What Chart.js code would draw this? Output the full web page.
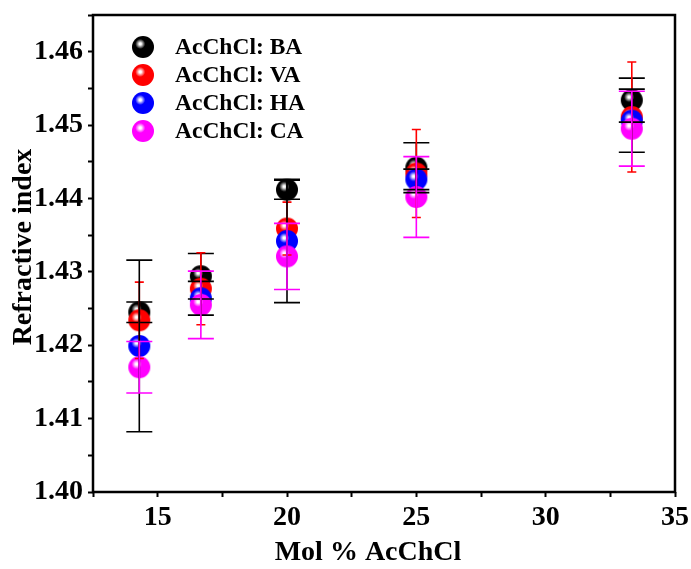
<!DOCTYPE html>
<html>
<head>
<meta charset="utf-8">
<script src="https://cdn.jsdelivr.net/npm/chart.js@4/dist/chart.umd.min.js"></script>
<style>
  body { margin: 0; background: #fff; }
  #wrap { width: 691px; height: 569px; }
</style>
</head>
<body>
<div id="wrap"><canvas id="chart" width="691" height="569"></canvas></div>
<script>
// values
const molPercent = [14.29, 16.67, 20, 25, 33.33];
const seriesNames = ["AcChCl: BA", "AcChCl: VA", "AcChCl: HA", "AcChCl: CA"];

const baIndex = [1.4245, 1.4294, 1.4412, 1.4442, 1.4534];
const vaIndex = [1.4234, 1.4277, 1.4359, 1.4434, 1.4511];
const haIndex = [1.4199, 1.4264, 1.4342, 1.4426, 1.4506];
const caIndex = [1.4170, 1.4255, 1.4321, 1.4402, 1.4495];

const baError = [0.0014, 0.0031, 0.0013, 0.0034, 0.0030];
const vaError = [0.0052, 0.0049, 0.0036, 0.0060, 0.0075];
const haError = [0.0117, 0.0023, 0.0084, 0.0014, 0.0043];
const caError = [0.0035, 0.0046, 0.0045, 0.0055, 0.0051];

const xTickLabels = [15, 20, 25, 30, 35];
const yTickLabels = [1.40, 1.41, 1.42, 1.43, 1.44, 1.45, 1.46];

const seriesValues = [baIndex, vaIndex, haIndex, caIndex];
const seriesErrors = [baError, vaError, haError, caError];
const sphereColors = ["#000000", "#ff0000", "#0000ff", "#ff00ff"];
const barColors = ["#000000", "#ff0000", "#000000", "#ff00ff"];
const capHalf = [13, 4.5, 13, 13];

const FONT = '"Liberation Serif", "Times New Roman", serif';

function makeSphere(color, r) {
  const c = document.createElement("canvas");
  c.width = c.height = r * 2 + 2;
  const g = c.getContext("2d");
  const cx = r + 1, cy = r + 1;
  const hx = cx - r * 0.25, hy = cy - r * 0.28;
  const grad = g.createRadialGradient(hx, hy, 0, hx, hy, r * 1.2);
  grad.addColorStop(0, "#ffffff");
  grad.addColorStop(0.08, "#ffffff");
  grad.addColorStop(0.38, color);
  grad.addColorStop(1, color);
  g.fillStyle = grad;
  g.beginPath();
  g.arc(cx, cy, r, 0, Math.PI * 2);
  g.fill();
  return c;
}

const spheres = sphereColors.map((c) => makeSphere(c, 11));

const errorBars = {
  id: "errorBars",
  afterDatasetsDraw(chart) {
    const ctx = chart.ctx;
    const y = chart.scales.y;
    ctx.save();
    ctx.lineWidth = 1.6;
    seriesValues.forEach((vals, si) => {
      const meta = chart.getDatasetMeta(si);
      ctx.strokeStyle = barColors[si];
      vals.forEach((v, i) => {
        const px = meta.data[i].x;
        const top = y.getPixelForValue(v + seriesErrors[si][i]);
        const bot = y.getPixelForValue(v - seriesErrors[si][i]);
        const w = capHalf[si];
        ctx.beginPath();
        ctx.moveTo(px, top); ctx.lineTo(px, bot);
        ctx.moveTo(px - w, top); ctx.lineTo(px + w, top);
        ctx.moveTo(px - w, bot); ctx.lineTo(px + w, bot);
        ctx.stroke();
      });
    });
    ctx.restore();
  }
};

const frameAndText = {
  id: "frameAndText",
  afterDraw(chart) {
    const ctx = chart.ctx;
    const a = chart.chartArea;
    ctx.save();
    ctx.strokeStyle = "#000";
    ctx.lineWidth = 2.5;
    ctx.strokeRect(a.left, a.top, a.right - a.left, a.bottom - a.top);

    // legend
    ctx.font = "bold 23.5px " + FONT;
    ctx.fillStyle = "#000";
    ctx.textBaseline = "middle";
    ctx.textAlign = "left";
    seriesNames.forEach((name, i) => {
      const ly = 47 + i * 28;
      ctx.drawImage(spheres[i], 143 - spheres[i].width / 2, ly - spheres[i].height / 2);
      ctx.fillText(name, 175, ly + 1);
    });

    // axis titles
    ctx.font = "bold 28px " + FONT;
    ctx.textAlign = "center";
    ctx.fillText("Mol % AcChCl", 368, 553);
    ctx.translate(24, 247);
    ctx.rotate(-Math.PI / 2);
    ctx.fillText("Refractive index", 0, 0);
    ctx.restore();
  }
};

const datasets = seriesValues.map((vals, si) => ({
  label: seriesNames[si],
  data: molPercent.map((x, i) => ({ x: x, y: vals[i] })),
  pointStyle: spheres[si],
  pointRadius: 11,
  showLine: false,
  order: 3 - si
}));

new Chart(document.getElementById("chart"), {
  type: "scatter",
  data: { datasets },
  options: {
    responsive: false,
    animation: false,
    devicePixelRatio: 1,
    layout: { padding: { top: 15, right: 16, left: 0, bottom: 0 } },
    plugins: { legend: { display: false }, tooltip: { enabled: false } },
    scales: {
      x: {
        type: "linear",
        min: 12.5,
        max: 35,
        border: { display: false },
        grid: { drawOnChartArea: false, color: "#000", tickLength: 5, tickWidth: 2 },
        ticks: {
          stepSize: 2.5,
          autoSkip: false,
          maxRotation: 0,
          padding: 4,
          color: "#000",
          font: { family: FONT, size: 28, weight: "bold" },
          callback: (v) => (xTickLabels.includes(v) ? String(v) : "")
        },
        afterFit: (s) => { s.height = 77; s.paddingLeft = 0; s.paddingRight = 0; }
      },
      y: {
        min: 1.40,
        max: 1.465,
        border: { display: false },
        grid: { drawOnChartArea: false, color: "#000", tickLength: 5, tickWidth: 2 },
        ticks: {
          stepSize: 0.005,
          autoSkip: false,
          padding: 5,
          color: "#000",
          font: { family: FONT, size: 28, weight: "bold" },
          callback: (v) => {
            const k = Math.round(v * 1000);
            return yTickLabels.some((t) => Math.round(t * 1000) === k) ? (k / 1000).toFixed(2) : "";
          }
        },
        afterFit: (s) => { s.width = 93; s.paddingTop = 0; s.paddingBottom = 0; }
      }
    }
  },
  plugins: [errorBars, frameAndText]
});
</script>
</body>
</html>
